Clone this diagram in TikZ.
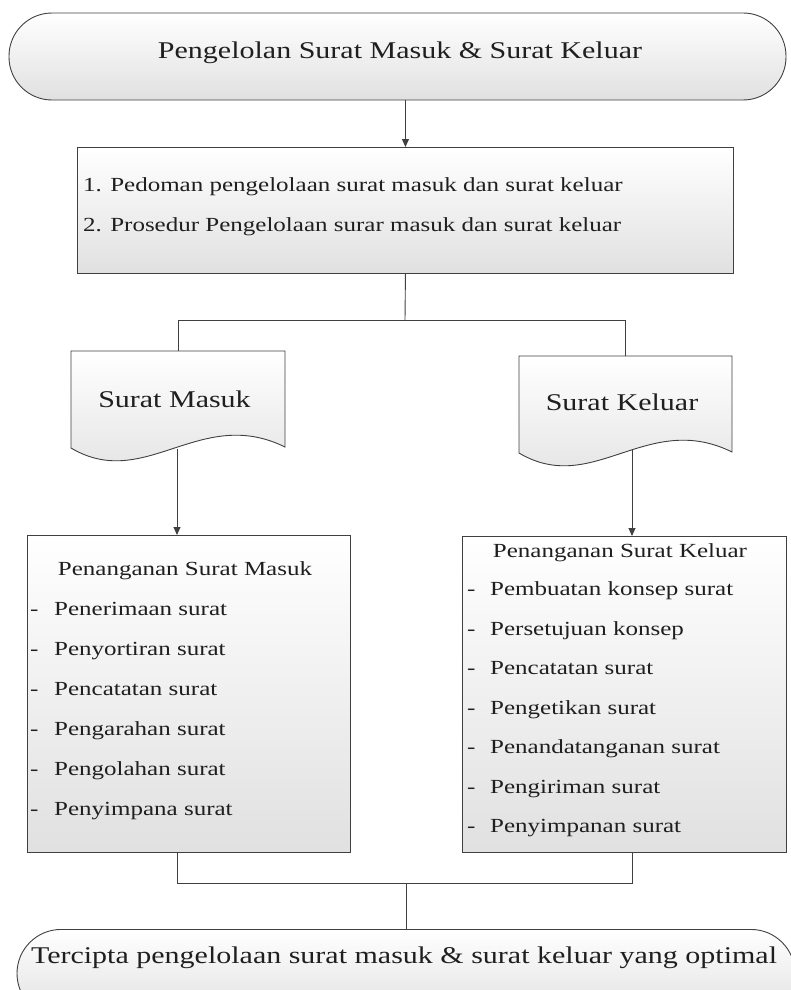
\documentclass[tikz,border=0pt]{standalone}
\usepackage{fontspec}
\setmainfont[FakeStretch=1.25]{Liberation Serif}
\usetikzlibrary{arrows.meta}
\begin{document}
\begin{tikzpicture}[x=1pt,y=-1pt,
  line/.style={draw=black!75, line width=0.9pt},
  arr/.style={line, -{Triangle[length=8pt,width=7pt]}},
  shadefill/.style={top color=white, bottom color=black!12},
  big/.style={font=\fontsize{24}{28}\selectfont, text=black!88, inner sep=0pt},
  small/.style={font=\fontsize{20}{24}\selectfont, text=black!88, inner sep=0pt},
  area/.style={inner sep=0pt, anchor=north west}
]
\useasboundingbox (0,0) rectangle (790,990);

% start terminator
\node[line, shadefill, minimum width=777pt, minimum height=87pt, rounded corners=43pt] (start) at (397.5,56.5) {};
\node[big, anchor=base] (starttxt) at (400,59) {Pengelolan Surat Masuk \& Surat Keluar};

% guidelines box
\node[line, shadefill, area, minimum width=656pt, minimum height=126pt] (guide) at (77,147) {};
\node[small, anchor=base west] (g1) at (83,191) {1. Pedoman pengelolaan surat masuk dan surat keluar};
\node[small, anchor=base west] (g2) at (83,231) {2. Prosedur Pengelolaan surar masuk dan surat keluar};
\draw[arr] (guide.north |- start.south) -- (guide.north);

% documents
\path[line, shadefill] (71,351) -- (285,351) -- (285,447) .. controls (200,405) and (145,492) .. (71,448) -- cycle;
\node[area, minimum width=214pt, minimum height=97pt] (docM) at (71,351) {};
\node[big, anchor=base] (docMtxt) at (174.5,407) {Surat Masuk};
\coordinate (docMb) at (177,449);

\path[line, shadefill] (519,356) -- (732,356) -- (732,452) .. controls (647,410) and (593,497) .. (519,453) -- cycle;
\node[area, minimum width=213pt, minimum height=97pt] (docK) at (519,356) {};
\node[big, anchor=base] (docKtxt) at (622,410) {Surat Keluar};
\coordinate (docKb) at (632,449);

\coordinate (split) at (405,320);
\draw[line] (guide.south) -- (split);
\draw[line] (split) -| (docM.north);
\draw[line] (split) -| (docK.north);

% handling boxes
\node[line, shadefill, area, minimum width=323pt, minimum height=317pt] (boxM) at (27,535) {};
\node[line, shadefill, area, minimum width=324pt, minimum height=316pt] (boxK) at (462,536) {};
\draw[arr] (docMb) -- (docMb |- boxM.north);
\draw[arr] (docKb) -- (docKb |- boxK.north);

\node[small, anchor=base] (mt) at (185,575) {Penanganan Surat Masuk};
\foreach \t [count=\i] in {Penerimaan surat, Penyortiran surat, Pencatatan surat, Pengarahan surat, Pengolahan surat, Penyimpana surat}
  \node[small, anchor=base west] (m\i) at (30,575+40*\i) {\makebox[24pt][l]{-}\t};

\node[small, anchor=base] (kt) at (620,557) {Penanganan Surat Keluar};
\foreach \t [count=\i] in {Pembuatan konsep surat, Persetujuan konsep, Pencatatan surat, Pengetikan surat, Penandatanganan surat, Pengiriman surat, Penyimpanan surat}
  \node[small, anchor=base west] (k\i) at (467,556+39.5*\i) {\makebox[23pt][l]{-}\t};

% merge and end terminator
\coordinate (merge) at (406,883);
\draw[line] (docMb |- boxM.south) |- (merge) -| (docKb |- boxK.south);
\node[line, shadefill, minimum width=778pt, minimum height=88pt, rounded corners=44pt, anchor=north] (end) at (406,929) {};
\draw[line] (merge) -- (end.north);
\node[big, anchor=base] (endtxt) at (404,963) {Tercipta pengelolaan surat masuk \& surat keluar yang optimal};
\end{tikzpicture}
\end{document}
